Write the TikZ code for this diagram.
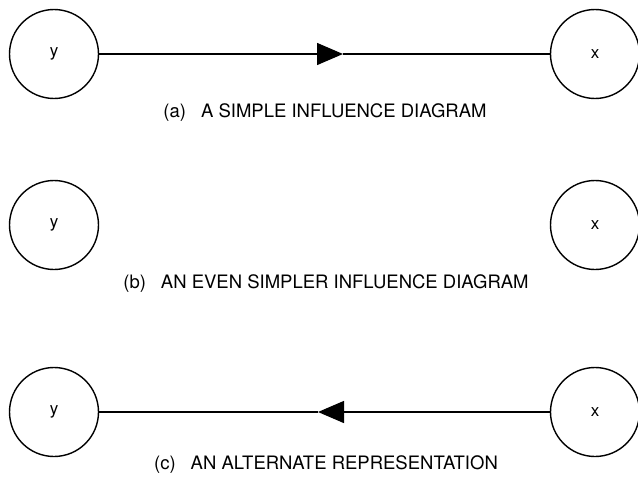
\documentclass[tikz,border=0pt]{standalone}
\usepackage{fontspec}
\setmainfont{TeX Gyre Heros}
\usetikzlibrary{arrows.meta}
\tikzset{var/.style={draw,circle,line width=1.4pt,minimum size=89pt,inner sep=0pt,font=\fontsize{17}{19}\selectfont},
  caption/.style={font=\fontsize{18.5}{21}\selectfont}}
\begin{document}
\begin{tikzpicture}[x=1pt,y=-1pt]
    \useasboundingbox (0,0) rectangle (638,479);
    % (a)
    \node [var] (ya) at (54,54) {y};
    \node [var] (xa) at (595,54) {x};
    \coordinate (ma) at (343,54);
    \draw [line width=1.4pt,-{Triangle[length=26pt,width=22pt]}] (ya)--(ma);
    \draw [line width=1.4pt] (ma)--(xa);
    \node [caption] (la) at (325,113) {(a)\hspace{15pt}A SIMPLE INFLUENCE DIAGRAM};
    % (b)
    \node [var] (yb) at (54,225) {y};
    \node [var] (xb) at (595,225) {x};
    \node [caption] (lb) at (326,284) {(b)\hspace{15pt}AN EVEN SIMPLER INFLUENCE DIAGRAM};
    % (c)
    \node [var] (yc) at (54,412) {y};
    \node [var] (xc) at (595,412) {x};
    \coordinate (mc) at (318,412);
    \draw [line width=1.4pt,-{Triangle[length=26pt,width=22pt]}] (xc)--(mc);
    \draw [line width=1.4pt] (mc)--(yc);
    \node [caption] (lc) at (326,465) {(c)\hspace{15pt}AN ALTERNATE REPRESENTATION};
  \end{tikzpicture}
\end{document}
